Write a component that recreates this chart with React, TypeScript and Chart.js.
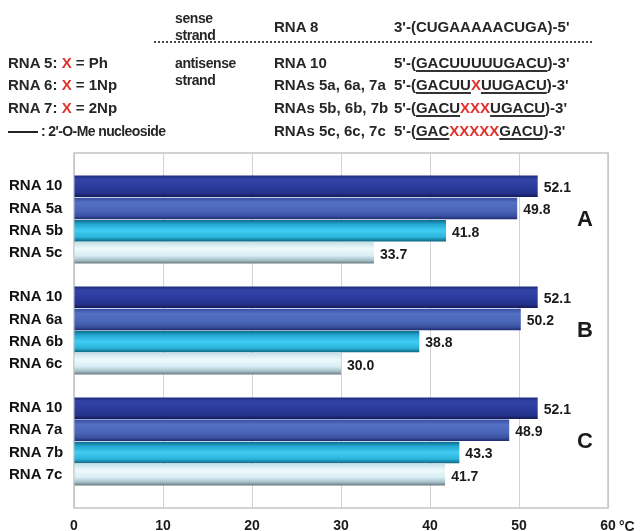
import React, { useEffect, useRef } from "react";
import { Chart, registerables } from "chart.js";

Chart.register(...registerables);

// ---- data ----
const groupLetters = ["A", "B", "C"];
const rnaLabelsA = ["RNA 10", "RNA 5a", "RNA 5b", "RNA 5c"];
const rnaLabelsB = ["RNA 10", "RNA 6a", "RNA 6b", "RNA 6c"];
const rnaLabelsC = ["RNA 10", "RNA 7a", "RNA 7b", "RNA 7c"];
const tmA = [52.1, 49.8, 41.8, 33.7];
const tmB = [52.1, 50.2, 38.8, 30.0];
const tmC = [52.1, 48.9, 43.3, 41.7];
const xTicks = [0, 10, 20, 30, 40, 50, 60];
const unitLabel = "°C";

const senseName = "RNA 8";
const senseSeq = "3'-(CUGAAAAACUGA)-5'";
const antisenseNames = ["RNA 10", "RNAs 5a, 6a, 7a", "RNAs 5b, 6b, 7b", "RNAs 5c, 6c, 7c"];
const antisenseParts: [string, string][][] = [
  [["5'-(", "n"], ["GACUUUUUGACU", "u"], [")-3'", "n"]],
  [["5'-(", "n"], ["GACUU", "u"], ["X", "x"], ["UUGACU", "u"], [")-3'", "n"]],
  [["5'-(", "n"], ["GACU", "u"], ["XXX", "x"], ["UGACU", "u"], [")-3'", "n"]],
  [["5'-(", "n"], ["GAC", "u"], ["XXXXX", "x"], ["GACU", "u"], [")-3'", "n"]],
];
const modNames = ["RNA 5: ", "RNA 6: ", "RNA 7: "];
const modGroups = ["Ph", "1Np", "2Np"];

// ---- derived ----
const groups = [
  { labels: rnaLabelsA, values: tmA },
  { labels: rnaLabelsB, values: tmB },
  { labels: rnaLabelsC, values: tmC },
];
const catLabels: string[] = [""];
const catValues: (number | null)[] = [null];
const shadeIdx: number[] = [-1];
groups.forEach((g) => {
  g.labels.forEach((l, i) => {
    catLabels.push(l);
    catValues.push(g.values[i]);
    shadeIdx.push(i);
  });
  catLabels.push("");
  catValues.push(null);
  shadeIdx.push(-1);
});

const shades: [number, string][][] = [
  [[0, "#1d2a7c"], [0.18, "#3244a6"], [0.5, "#2c3c9e"], [0.82, "#25338c"], [1, "#131b58"]],
  [[0, "#344ca2"], [0.22, "#5470c2"], [0.6, "#4b66b8"], [0.85, "#3a50a0"], [1, "#1d2b6e"]],
  [[0, "#0e6a8a"], [0.2, "#22a6d2"], [0.5, "#41ccf2"], [0.8, "#2ab4dc"], [1, "#0c6580"]],
  [[0, "#c4e0e8"], [0.3, "#eef9fc"], [0.62, "#d7eef5"], [0.84, "#a8c2ca"], [1, "#687880"]],
];
const solid = ["#2c3c9e", "#4b66b8", "#2ab4dc", "#d7eef5"];

const FONT = "'Liberation Sans', Arial, sans-serif";

const overlayPlugin = {
  id: "overlay",
  beforeDatasetsDraw(chart: any) {
    const { ctx, chartArea: a } = chart;
    ctx.save();
    ctx.strokeStyle = "#c4c4c4";
    ctx.lineWidth = 1.5;
    ctx.strokeRect(a.left, a.top, a.right - a.left, a.bottom - a.top);
    ctx.restore();
  },
  afterDatasetsDraw(chart: any) {
    const { ctx, chartArea: a } = chart;
    const meta = chart.getDatasetMeta(0);
    ctx.save();
    ctx.fillStyle = "#1a1a1a";
    ctx.font = `bold 14px ${FONT}`;
    ctx.textBaseline = "middle";
    ctx.textAlign = "left";
    catValues.forEach((v, i) => {
      if (v === null) return;
      const el = meta.data[i];
      ctx.fillText(v.toFixed(1), el.x + 6, el.y + 2);
    });
    const yScale = chart.scales.y;
    ctx.font = `bold 22px ${FONT}`;
    ctx.textAlign = "center";
    groupLetters.forEach((L, gi) => {
      const start = 1 + gi * 5;
      const y = (yScale.getPixelForValue(start + 1) + yScale.getPixelForValue(start + 2)) / 2;
      ctx.fillText(L, a.right - 23, y);
    });
    ctx.font = `bold 14px ${FONT}`;
    ctx.textAlign = "left";
    ctx.textBaseline = "alphabetic";
    ctx.fillText(unitLabel, a.right + 11, a.bottom + 23);
    ctx.restore();
  },
};

function ChartView() {
  const ref = useRef<HTMLCanvasElement>(null);
  useEffect(() => {
    if (!ref.current) return;
    const chart = new Chart(ref.current, {
      type: "bar",
      data: {
        labels: catLabels,
        datasets: [
          {
            data: catValues as any,
            barPercentage: 0.97,
            categoryPercentage: 1,
            borderWidth: 0,
            backgroundColor: (c: any) => {
              const s = shadeIdx[c.dataIndex];
              if (s < 0) return "transparent";
              const chart = c.chart;
              const y = chart.scales && chart.scales.y;
              if (!chart.chartArea || !y) return solid[s];
              const center = y.getPixelForValue(c.dataIndex);
              const half = (y.getPixelForValue(1) - y.getPixelForValue(0)) * 0.485;
              const g = chart.ctx.createLinearGradient(0, center - half, 0, center + half);
              shades[s].forEach(([o, col]) => g.addColorStop(o, col));
              return g;
            },
          },
        ],
      },
      options: {
        indexAxis: "y",
        responsive: false,
        animation: false,
        layout: { padding: { top: 153, left: 9, right: 32, bottom: 0 } },
        plugins: { legend: { display: false }, tooltip: { enabled: false } },
        scales: {
          x: {
            min: 0,
            max: 60,
            afterBuildTicks: (s: any) => {
              s.ticks = xTicks.map((v) => ({ value: v }));
            },
            afterFit: (s: any) => {
              s.height = 23;
            },
            grid: { color: "#d2d2d2", lineWidth: 1, drawTicks: false },
            border: { display: false },
            ticks: {
              padding: 10,
              color: "#1a1a1a",
              font: { family: FONT, size: 14, weight: "bold" },
            },
          },
          y: {
            afterFit: (s: any) => {
              s.width = 65;
            },
            grid: { display: false },
            border: { display: false },
            ticks: {
              autoSkip: false,
              crossAlign: "far",
              padding: 0,
              color: "#111",
              font: { family: FONT, size: 15, weight: "bold" },
            },
          },
        },
      },
      plugins: [overlayPlugin],
    } as any);
    return () => chart.destroy();
  }, []);
  return (
    <canvas
      ref={ref}
      width={640}
      height={531}
      style={{ position: "absolute", left: 0, top: 0, width: 640, height: 531 }}
    />
  );
}

const txt: React.CSSProperties = {
  position: "absolute",
  fontFamily: FONT,
  fontWeight: "bold",
  fontSize: 15,
  lineHeight: "16px",
  color: "#262626",
  whiteSpace: "nowrap",
};
const lower: React.CSSProperties = { ...txt, fontSize: 14, letterSpacing: "-0.4px" };
const red: React.CSSProperties = { color: "#e2302b" };
const und: React.CSSProperties = {
  textDecoration: "underline",
  textDecorationThickness: "2px",
  textUnderlineOffset: "2px",
  textDecorationColor: "#333",
};

const rowY = [63, 85, 108, 131];

function Header() {
  return (
    <>
      <div style={{ ...lower, left: 175, top: 10 }}>sense</div>
      <div style={{ ...lower, left: 175, top: 27 }}>strand</div>
      <div style={{ ...txt, left: 274, top: 19 }}>{senseName}</div>
      <div style={{ ...txt, left: 394, top: 19 }}>{senseSeq}</div>
      <div
        style={{
          position: "absolute",
          left: 154,
          top: 41,
          width: 438,
          height: 0,
          borderTop: "2px dotted #444",
        }}
      />
      <div style={{ ...lower, left: 175, top: rowY[0] - 8 }}>antisense</div>
      <div style={{ ...lower, left: 175, top: rowY[0] + 9 }}>strand</div>
      {antisenseNames.map((n, i) => (
        <div key={"n" + i} style={{ ...txt, left: 274, top: rowY[i] - 8 }}>
          {n}
        </div>
      ))}
      {antisenseParts.map((parts, i) => (
        <div key={"s" + i} style={{ ...txt, left: 394, top: rowY[i] - 8 }}>
          {parts.map(([t, k], j) => (
            <span key={j} style={k === "u" ? und : k === "x" ? red : undefined}>
              {t}
            </span>
          ))}
        </div>
      ))}
      {modNames.map((n, i) => (
        <div key={"m" + i} style={{ ...txt, left: 8, top: rowY[i] - 8 }}>
          {n}
          <span style={red}>X</span> = {modGroups[i]}
        </div>
      ))}
      <div
        style={{
          position: "absolute",
          left: 8,
          top: rowY[3],
          width: 30,
          height: 2,
          background: "#222",
        }}
      />
      <div style={{ ...lower, left: 41, top: rowY[3] - 8, letterSpacing: "-0.6px" }}>
        : 2'-O-Me nucleoside
      </div>
    </>
  );
}

export default function App() {
  return (
    <div
      style={{
        position: "absolute",
        left: 0,
        top: 0,
        width: 640,
        height: 531,
        background: "#fff",
        overflow: "hidden",
      }}
    >
      <ChartView />
      <Header />
    </div>
  );
}
